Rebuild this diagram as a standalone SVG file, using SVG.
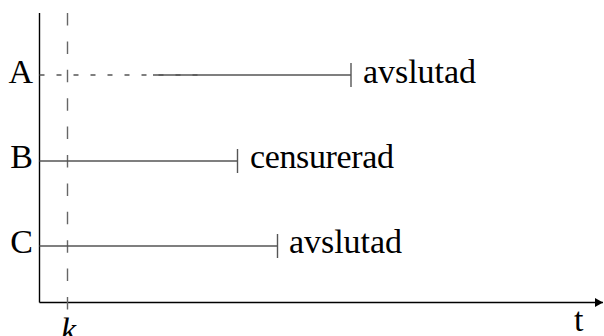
<svg xmlns="http://www.w3.org/2000/svg" width="604" height="336" viewBox="0 0 604 336">
<defs>
<style>
.lbl{font-family:"Liberation Serif","DejaVu Serif",serif;font-size:34px;fill:#000}
.row{stroke:#555;stroke-width:1.4;fill:none}
.axis{stroke:#000;stroke-width:1.4;fill:none}
</style>
<marker id="arr" markerWidth="10" markerHeight="10" refX="8" refY="4.5" orient="auto" markerUnits="userSpaceOnUse">
<path d="M0,0 L8,4.5 L0,9 Z" fill="#000"/>
</marker>
</defs>
<g id="connectors">
<line class="axis" x1="39.5" y1="13" x2="39.5" y2="302.5"/>
<line class="axis" x1="39.5" y1="302.5" x2="603" y2="302.5" marker-end="url(#arr)"/>
<line x1="67.5" y1="13" x2="67.5" y2="316" stroke="#666" stroke-width="1.4" stroke-dasharray="12.5 15.9"/>
</g>
<g id="rowA">
<line x1="39.5" y1="75" x2="200" y2="75" stroke="#555" stroke-width="1.4" stroke-dasharray="5 12"/>
<line class="row" x1="153" y1="75" x2="351" y2="75"/>
<line class="row" x1="351" y1="63" x2="351" y2="87"/>
<text class="lbl" x="33" y="83" text-anchor="end">A</text>
<text class="lbl" x="363" y="83" textLength="113">avslutad</text>
</g>
<g id="rowB">
<line class="row" x1="39.5" y1="161" x2="237.5" y2="161"/>
<line class="row" x1="237.5" y1="149" x2="237.5" y2="173"/>
<text class="lbl" x="33" y="168" text-anchor="end">B</text>
<text class="lbl" x="250" y="168" textLength="144">censurerad</text>
</g>
<g id="rowC">
<line class="row" x1="39.5" y1="246" x2="277.5" y2="246"/>
<line class="row" x1="277.5" y1="234" x2="277.5" y2="258"/>
<text class="lbl" x="33" y="253" text-anchor="end">C</text>
<text class="lbl" x="289" y="253" textLength="113">avslutad</text>
</g>
<g id="axisLabels">
<text class="lbl" x="61" y="341" font-style="italic">k</text>
<text class="lbl" x="574" y="331">t</text>
</g>
</svg>
